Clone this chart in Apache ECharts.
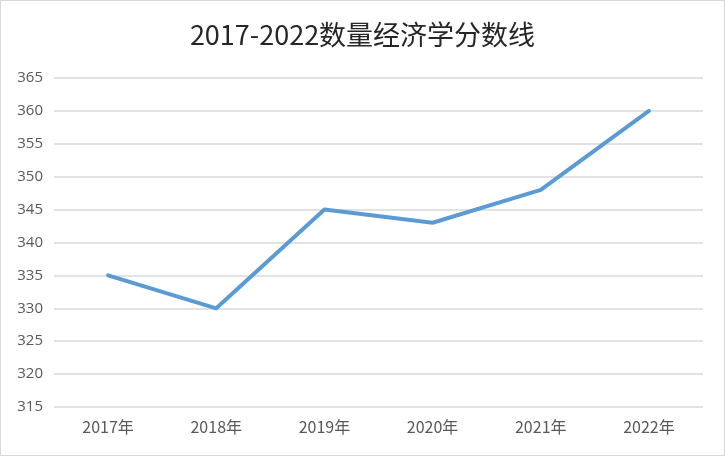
<!DOCTYPE html>
<html><head><meta charset="utf-8">
<script src="https://cdn.jsdelivr.net/npm/echarts@6/dist/echarts.min.js"></script>
<style>
html,body{margin:0;padding:0;background:#fff;}
#c{width:723px;height:454px;border:1px solid #d9d9d9;}
</style></head>
<body><div id="c"></div>
<script>
var titleText = '2017-2022数量经济学分数线';
var categories = ['2017年','2018年','2019年','2020年','2021年','2022年'];
var scores = [335, 330, 345, 343, 348, 360];
var yMin = 315, yMax = 365, yStep = 5;

var chart = echarts.init(document.getElementById('c'));
chart.setOption({
  animation: false,
  backgroundColor: '#fff',
  title: {
    text: titleText, left: 'center', top: 15,
    textStyle: {fontFamily: '"Noto Sans CJK SC", sans-serif', fontSize: 27, fontWeight: 'normal', color: '#262626'}
  },
  grid: {left: 53, right: 21, top: 77, bottom: 48},
  xAxis: {
    type: 'category', data: categories, boundaryGap: true,
    axisLine: {show: false}, axisTick: {show: false},
    axisLabel: {color: '#595959', fontSize: 16, margin: 12, fontFamily: '"Noto Sans CJK SC", sans-serif'}
  },
  yAxis: {
    type: 'value', min: yMin, max: yMax, interval: yStep,
    axisLine: {show: false}, axisTick: {show: false},
    axisLabel: {color: '#595959', fontSize: 15, margin: 11, fontFamily: '"Open Sans", sans-serif'},
    splitLine: {lineStyle: {color: '#d9d9d9', width: 1.5}}
  },
  series: [{
    type: 'line', data: scores, symbol: 'none',
    lineStyle: {color: '#5b9bd5', width: 4, cap: 'round', join: 'round'}
  }]
});
</script></body></html>
